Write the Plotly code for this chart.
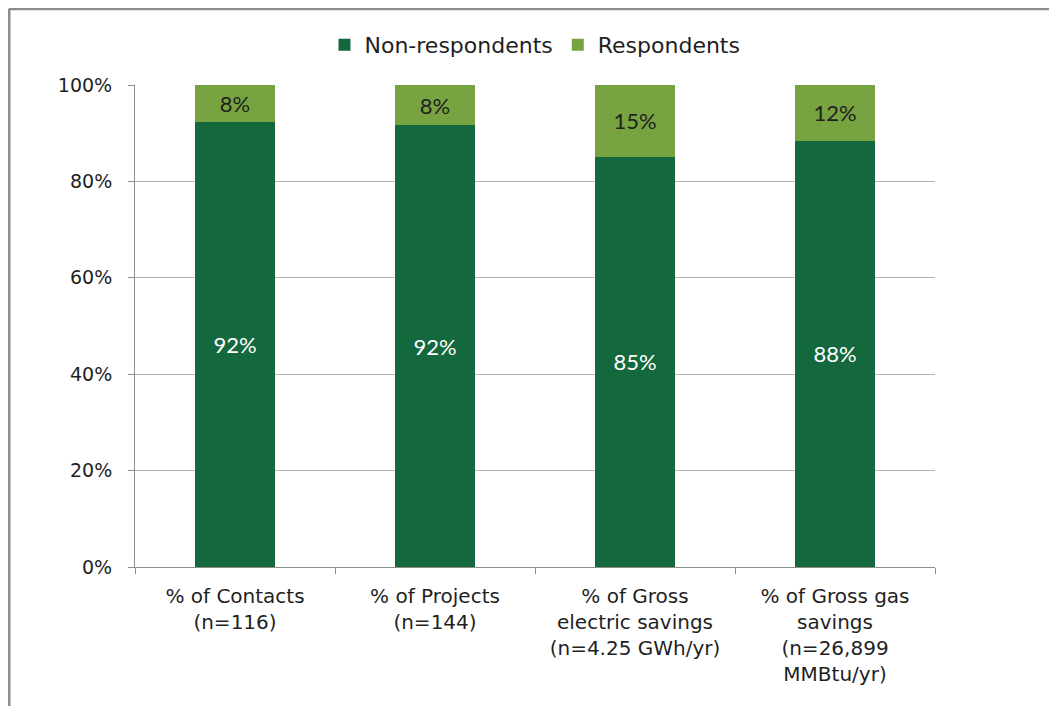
import plotly.graph_objects as go

categories = [
    '% of Contacts<br>(n=116)',
    '% of Projects<br>(n=144)',
    '% of Gross<br>electric savings<br>(n=4.25 GWh/yr)',
    '% of Gross gas<br>savings<br>(n=26,899<br>MMBtu/yr)',
]
non_respondents = [92.3, 91.7, 85.1, 88.4]
respondents = [7.7, 8.3, 14.9, 11.6]

DARK = '#13683D'
LIGHT = '#77A440'
TXT = '#1f1f1f'

fig = go.Figure()
fig.add_trace(go.Bar(
    x=categories, y=non_respondents, name='Non-respondents',
    marker=dict(color=DARK, line=dict(width=0)),
    texttemplate='%{y:.0f}%', textposition='inside', insidetextanchor='middle',
    textfont=dict(family='Lato', size=22, color='white'),
    hoverinfo='skip',
))
fig.add_trace(go.Bar(
    x=categories, y=respondents, name='Respondents',
    marker=dict(color=LIGHT, line=dict(width=0)),
    texttemplate='%{y:.0f}%', textposition='inside', insidetextanchor='middle',
    textfont=dict(family='Lato', size=22, color=TXT),
    hoverinfo='skip',
))

# page body adds an 8px offset, so the figure is 8px smaller
fig.update_layout(
    barmode='stack',
    bargap=0.6,
    width=1049, height=698,
    margin=dict(l=127, r=122, t=77, b=139),
    paper_bgcolor='white', plot_bgcolor='white',
    font=dict(family='DejaVu Sans', size=19, color=TXT),
    legend=dict(
        orientation='h', x=0.5, xanchor='center', y=1.083, yanchor='middle',
        font=dict(size=22), itemwidth=30, traceorder='normal',
    ),
    showlegend=True,
)
fig.update_yaxes(
    range=[0, 100], dtick=20, ticksuffix='%',
    showgrid=True, gridcolor='#b3b3b3', gridwidth=1,
    showline=True, linecolor='#8c8c8c', linewidth=1,
    ticks='outside', ticklen=6, tickcolor='#8c8c8c',
    ticklabelstandoff=12,
    zeroline=False, tickfont=dict(size=19),
)
fig.update_xaxes(
    showline=True, linecolor='#8c8c8c', linewidth=1,
    ticks='outside', ticklen=6, tickcolor='#8c8c8c',
    tickson='boundaries', ticklabelstandoff=11, tickfont=dict(size=20),
)

# outer frame (top and left edges visible)
frame = dict(color='#8c8c8c', width=3)
fig.add_shape(type='line', xref='paper', yref='paper',
              x0=-0.1575, x1=1.2, y0=1.158, y1=1.158, line=frame)
fig.add_shape(type='line', xref='paper', yref='paper',
              x0=-0.1575, x1=-0.1575, y0=1.158, y1=-0.3, line=frame)

fig.write_html('out.html')
